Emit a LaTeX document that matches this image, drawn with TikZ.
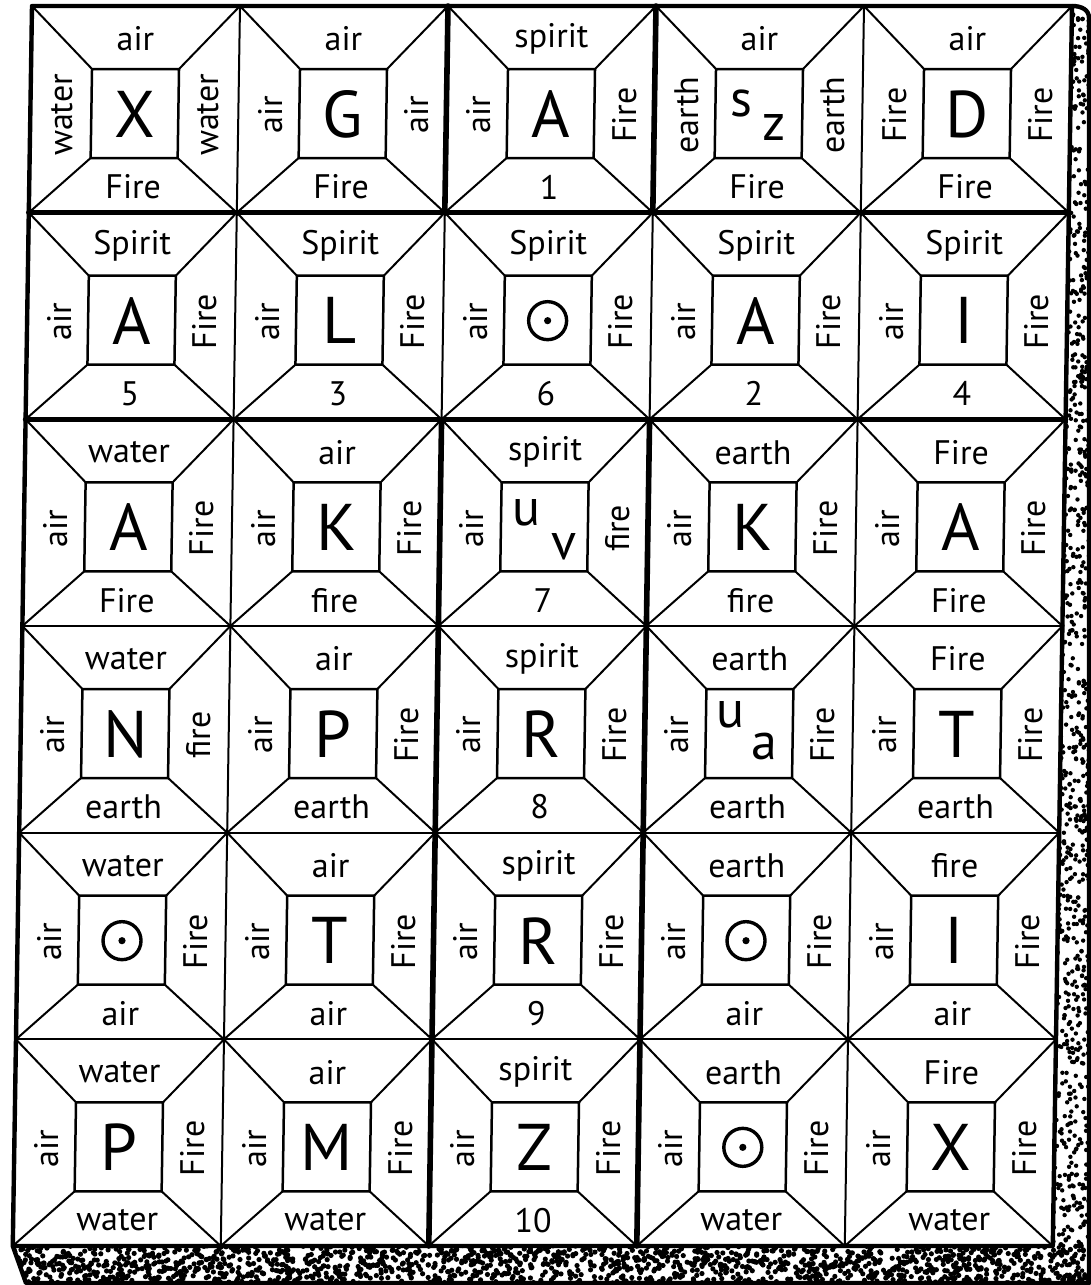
\documentclass[tikz,border=0pt]{standalone}
\usepackage{fontspec}
\setmainfont{PT Sans}
\newcommand\qc{0}
\newcommand\qr{0}
\newcommand\ctrtxt[1]{\node[ctr] (c-\qc-\qr) at (104.5,108) {#1};}
\newcommand\dotc{\node[ringc] (c-\qc-\qr) at (104.5,108) {}; \fill (c-\qc-\qr.center) circle[radius=1.8pt];}
\newcommand\twoltr[6]{\node[twol] (c-\qc-\qr) at ({104.5+(#3)},{108+(#4)}) {#1};
  \node[twol] (d-\qc-\qr) at ({104.5+(#5)},{108+(#6)}) {#2};}
\newcommand\qcell[7]{%
  \renewcommand\qc{#1}\renewcommand\qr{#2}%
  \begin{scope}[shift={({#1*208},{#2*206.667})}]
    \draw[diagln] (0,0) -- (61,63) (208,0) -- (148,63) (0,206.667) -- (61,152) (208,206.667) -- (148,152);
    \draw[innerln] (61,63) -- (148,63) -- (148,152) -- (61,152) -- cycle;
    \node[lbl] (t-#1-#2) at (104,33) {#3};
    \node[sidelbl] (l-#1-#2) at (32,109) {#4};
    \node[sidelbl] (r-#1-#2) at (178,109) {#5};
    \node[lbl] (b-#1-#2) at (104,181) {#6};
    #7
  \end{scope}}
\begin{document}
\begin{tikzpicture}[x=0.5pt,y=-0.5pt,
  thinln/.style={line width=1pt},
  thickln/.style={line width=2.8pt, line cap=round},
  borderln/.style={line width=2.2pt, line join=round},
  innerln/.style={line width=1.25pt, line join=miter},
  diagln/.style={line width=1pt},
  lbl/.style={font=\fontsize{17}{17}\selectfont, inner sep=0pt},
  sidelbl/.style={lbl, rotate=90},
  ctr/.style={font=\fontsize{33}{33}\selectfont, inner sep=0pt},
  twol/.style={font=\fontsize{26}{26}\selectfont, inner sep=0pt},
  ringc/.style={draw, circle, line width=1.7pt, minimum size=19pt, inner sep=0pt},
]
\useasboundingbox (0,0) rectangle (1091,1285);
\fill[white] (0,0) rectangle (1091,1285);

% stippled shadow
\begin{scope}
  \clip (1072,6) .. controls (1082,6) and (1089,10) .. (1089,18) -- (1089,1283) -- (26,1283) -- (12.8,1246) -- (1052.8,1246) -- cycle;
  \pgfmathsetseed{11}
  \foreach \i in {1,...,1700} \fill ({12+1078*rnd},{1244+40*rnd}) circle[radius=1.3pt];
  \foreach \i in {1,...,1100} \fill ({1050+40*rnd},{5+1280*rnd}) circle[radius=1.1pt];
\end{scope}
\draw[borderln] (1072,6) .. controls (1082,6) and (1089,10) .. (1089,18) -- (1089,1283) -- (26,1283) -- (12.8,1246);

\begin{scope}[shift={(32,6)}, xslant=0.0155]
\qcell{0}{0}{air}{water}{water}{Fire}{\ctrtxt{X}}
\qcell{1}{0}{air}{air}{air}{Fire}{\ctrtxt{G}}
\qcell{2}{0}{spirit}{air}{Fire}{1}{\ctrtxt{A}}
\qcell{3}{0}{air}{earth}{earth}{Fire}{\twoltr{s}{z}{-18}{-11}{15}{13}}
\qcell{4}{0}{air}{Fire}{Fire}{Fire}{\ctrtxt{D}}
\qcell{0}{1}{Spirit}{air}{Fire}{5}{\ctrtxt{A}}
\qcell{1}{1}{Spirit}{air}{Fire}{3}{\ctrtxt{L}}
\qcell{2}{1}{Spirit}{air}{Fire}{6}{\dotc}
\qcell{3}{1}{Spirit}{air}{Fire}{2}{\ctrtxt{A}}
\qcell{4}{1}{Spirit}{air}{Fire}{4}{\ctrtxt{I}}
\qcell{0}{2}{water}{air}{Fire}{Fire}{\ctrtxt{A}}
\qcell{1}{2}{air}{air}{Fire}{fire}{\ctrtxt{K}}
\qcell{2}{2}{spirit}{air}{fire}{7}{\twoltr{u}{v}{-18}{-15}{20}{19}}
\qcell{3}{2}{earth}{air}{Fire}{fire}{\ctrtxt{K}}
\qcell{4}{2}{Fire}{air}{Fire}{Fire}{\ctrtxt{A}}
\qcell{0}{3}{water}{air}{fire}{earth}{\ctrtxt{N}}
\qcell{1}{3}{air}{air}{Fire}{earth}{\ctrtxt{P}}
\qcell{2}{3}{spirit}{air}{Fire}{8}{\ctrtxt{R}}
\qcell{3}{3}{earth}{air}{Fire}{earth}{\twoltr{u}{a}{-19}{-19}{15}{12}}
\qcell{4}{3}{Fire}{air}{Fire}{earth}{\ctrtxt{T}}
\qcell{0}{4}{water}{air}{Fire}{air}{\dotc}
\qcell{1}{4}{air}{air}{Fire}{air}{\ctrtxt{T}}
\qcell{2}{4}{spirit}{air}{Fire}{9}{\ctrtxt{R}}
\qcell{3}{4}{earth}{air}{Fire}{air}{\dotc}
\qcell{4}{4}{fire}{air}{Fire}{air}{\ctrtxt{I}}
\qcell{0}{5}{water}{air}{Fire}{water}{\ctrtxt{P}}
\qcell{1}{5}{air}{air}{Fire}{water}{\ctrtxt{M}}
\qcell{2}{5}{spirit}{air}{Fire}{10}{\ctrtxt{Z}}
\qcell{3}{5}{earth}{air}{Fire}{water}{\dotc}
\qcell{4}{5}{Fire}{air}{Fire}{water}{\ctrtxt{X}}
% thin grid lines
\draw[thinln] (0,620) -- (1040,620) (0,826.667) -- (1040,826.667) (0,1033.333) -- (1040,1033.333);
\draw[thinln] (208,0) -- (208,1240) (832,0) -- (832,1240);
\draw[thinln] (416,206.667) -- (416,413.333) (624,206.667) -- (624,413.333);
% thick grid lines
\draw[thickln] (0,206.667) -- (1040,206.667) (0,413.333) -- (1040,413.333);
\draw[thickln] (416,0) -- (416,206.667) (416,413.333) -- (416,1240) (624,0) -- (624,206.667) (624,413.333) -- (624,1240);
\draw[borderln] (0,0) -- (1040,0) -- (1040,1240) -- (0,1240) -- cycle;
\end{scope}
\end{tikzpicture}
\end{document}
